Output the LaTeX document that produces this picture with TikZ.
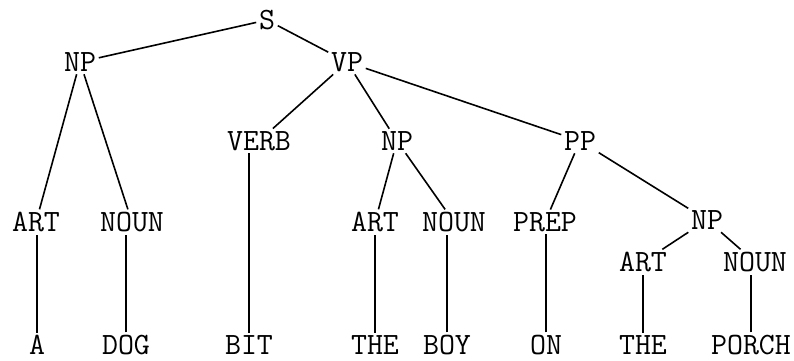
\documentclass[tikz,border=0pt]{standalone}
\usepackage{tikz}
\usetikzlibrary{positioning}

\begin{document}
\begin{tikzpicture}[x=1pt,y=-1pt,
        line width=1.6pt,
        every node/.style={inner sep=2pt,font=\fontsize{31}{31}\selectfont\ttfamily},
        cat/.style={},
        word/.style={}
        ]
        \useasboundingbox (0,0) rectangle (794,360);

        % the top of the tree
        \node[cat] (s) at (267,20) {S};
        \node[cat] (np1) at (80,62) {NP};
        \node[cat] (vp) at (347,62) {VP};

        % the subject
        \node[cat] (art1) at (36,222) {ART};
        \node[cat] (noun1) at (132,222) {NOUN};
        \node[word] (w1) at (37,345) {A};
        \node[word] (w2) at (126,345) {DOG};

        % the verb phrase
        \node[cat] (verb) at (259,141) {VERB};
        \node[cat] (np2) at (397,141) {NP};
        \node[cat] (pp) at (580,141) {PP};
        \node[word] (w3) at (249,345) {BIT};

        % the object
        \node[cat] (art2) at (375,222) {ART};
        \node[cat] (noun2) at (454,222) {NOUN};
        \node[word] (w4) at (375,345) {THE};
        \node[word] (w5) at (447,345) {BOY};

        % the prepositional phrase
        \node[cat] (prep) at (545,222) {PREP};
        \node[cat] (np3) at (707,220) {NP};
        \node[cat] (art3) at (643,262) {ART};
        \node[cat] (noun3) at (755,262) {NOUN};
        \node[word] (w6) at (546,345) {ON};
        \node[word] (w7) at (643,345) {THE};
        \node[word] (w8) at (751,345) {PORCH};

        % the edges
        \draw (s) -- (np1);
        \draw (s) -- (vp);
        \draw (np1) -- (art1);
        \draw (np1) -- (noun1);
        \draw (w1) -- (w1 |- art1.south);
        \draw (w2) -- (w2 |- noun1.south);
        \draw (vp) -- (verb);
        \draw (vp) -- (np2);
        \draw (vp) -- (pp);
        \draw (w3) -- (w3 |- verb.south);
        \draw (np2) -- (art2);
        \draw (np2) -- (noun2);
        \draw (w4) -- (w4 |- art2.south);
        \draw (w5) -- (w5 |- noun2.south);
        \draw (pp) -- (prep);
        \draw (pp) -- (np3);
        \draw (w6) -- (w6 |- prep.south);
        \draw (np3) -- (art3);
        \draw (np3) -- (noun3);
        \draw (w7) -- (w7 |- art3.south);
        \draw (w8) -- (w8 |- noun3.south);
\end{tikzpicture}
\end{document}
